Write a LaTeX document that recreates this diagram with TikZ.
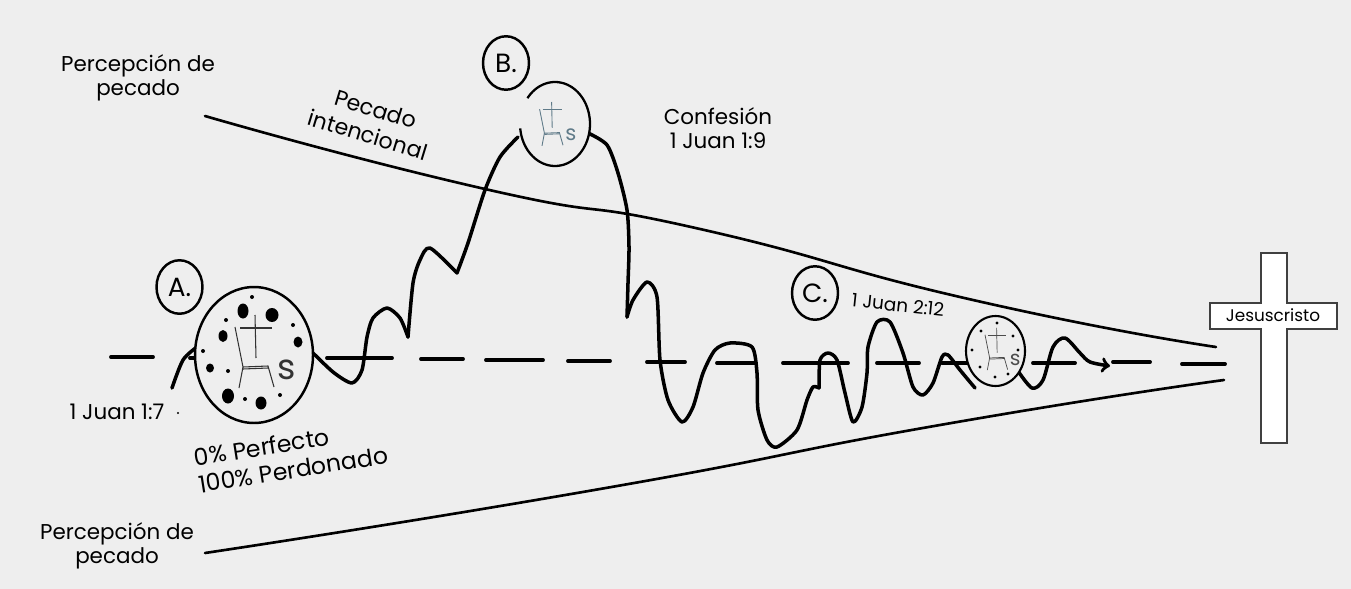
\documentclass[tikz,border=0pt]{standalone}
\usepackage{fontspec}
\setmainfont{Poppins}
\usetikzlibrary{shapes.geometric}
\colorlet{pagebg}{black!6.5}
\definecolor{slateink}{HTML}{5F7A88}
\tikzset{
  rim/.style={draw=black,line width=1.4pt},
  wave/.style={line width=2pt,line cap=round,line join=round},
  dashline/.style={line width=2.2pt,line cap=round},
  funnel/.style={line width=1.5pt,line cap=round},
  hsdisc/.style={ellipse,inner sep=0pt,fill=pagebg},
  tagdisc/.style={ellipse,rim,inner sep=0pt,minimum width=0.92cm,minimum height=1.07cm,font=\fontsize{15}{15}\selectfont},
  lbl/.style={align=center,inner sep=0pt,font=\fontsize{12.2}{13.6}\selectfont},
  hs/.pic={
    \draw (1,-40) -- (2,3);
    \draw (-14,-27) -- (18,-27);
    \draw (-19,-28) -- (-11,12) -- (14,11) -- (20,32);
    \draw (-11,14) -- (14,13);
    \draw (-11,12) -- (-15,33);
    \node[transform shape,inner sep=0pt,font=\fontsize{20}{20}\selectfont] at (33,15) {s};
  }
}
\begin{document}
\begin{tikzpicture}[x=0.02cm,y=-0.02cm]
    % Background
    \useasboundingbox (0,0) rectangle (1351,588);
    \fill[pagebg] (-5,-5) rectangle (1356,593);
    % Funnel
    \draw[funnel] plot[smooth,tension=1] coordinates {(205,116) (485,189) (700,229) (973,300) (1216,347)};
    \draw[funnel] plot[smooth,tension=1] coordinates {(205,553) (600,489) (940,425) (1224,380)};
    % Dashes
    \foreach \xa/\xb/\ya in {111/153/357,190/197/358,327/392/358,421/463/359,486/543/360,568/610/361,647/685/362,717/755/363,783/848/363,877/919/363,942/967/363,1033/1075/363,1113/1150/362,1182/1225/364}
      \draw[dashline] (\xa,\ya) -- (\xb,\ya);
    % Waves
    \draw[wave] plot[smooth] coordinates {(172,388) (183,360) (197,347)};
    \draw[wave] plot[smooth,tension=0.45] coordinates {(310,350) (333,372) (352,383) (362,370) (367,337) (373,318) (387,308) (400,318) (408,337)};
    \draw[wave] plot[smooth,tension=0.45] coordinates {(408,337) (413,283) (420,260) (430,248) (457,273)};
    \draw[wave] plot[smooth,tension=0.45] coordinates {(457,273) (468,243) (485,190) (500,157) (518,137)};
    \draw[wave] plot[smooth,tension=0.45] coordinates {(588,133) (607,145) (618,173) (627,210) (629,247) (628,283) (627,317)};
    \draw[wave] plot[smooth,tension=0.45] coordinates {(627,317) (633,300) (647,282) (657,297) (660,360) (668,400) (682,422) (693,407) (703,373) (715,350) (730,343) (752,347) (757,373) (758,410) (767,440) (777,447) (797,430) (807,400) (813,387) (819,388)};
    \draw[wave] plot[smooth,tension=0.45] coordinates {(819,388) (820,360) (828,353) (837,360) (845,393) (853,422) (862,407) (867,373) (868,347) (877,322) (890,322) (903,353) (913,387) (923,395) (933,383) (942,357) (948,355) (960,370) (975,388)};
    \draw[wave,->] plot[smooth,tension=0.5] coordinates {(1018,371) (1032,388) (1043,380) (1053,347) (1065,338) (1080,353) (1090,362) (1110,366)};
    % Discs
    \node[hsdisc,rim,minimum width=2.36cm,minimum height=2.72cm] (hsA) at (254,355) {};
    \node[hsdisc,minimum width=1.4cm,minimum height=1.68cm] (hsB) at (555,124) {};
    \draw[black,line width=1.3pt] plot[smooth,domain=-174:142,samples=40] ({555+35*cos(\x)},{124-42*sin(\x)});
    \node[hsdisc,rim,line width=1.2pt,minimum width=1.18cm,minimum height=1.4cm] (hsC) at (995.5,351) {};
    \node[tagdisc] (tagA) at (179.5,287) {A.};
    \node[tagdisc] (tagB) at (506,63) {B.};
    \node[tagdisc] (tagC) at (815,293) {C.};
    % Spots
    \foreach \xa/\ya/\rx/\ry in {243/311/5.5/7.5,272/315/6.5/7,223/336/4.5/6,298/342/4.5/5.5,210/368/4/4.5,228/396/6/7.5,261/403/5.5/6.5}
      \fill (\xa,\ya) circle[x radius=\rx,y radius=\ry];
    \foreach \xa/\ya in {252/297,226/320,293/325,203/351,228/371,245/399,280/395}
      \fill (\xa,\ya) circle[radius=2];
    \foreach \xa/\ya in {997/323,981/331,1013/336,972/350,1018/350,980/367,995/377,1008/374}
      \fill (\xa,\ya) circle[radius=1.6];
    \fill (178,413) circle[radius=1.2];
    % Chairs
    \pic[line width=0.6pt,black!80] at (254,355) {hs};
    \pic[scale=0.6,line width=0.5pt,slateink,text=slateink] at (551,126) {hs};
    \pic[scale=0.58,line width=0.4pt,black!70,text=black!70] at (996,351) {hs};
    % Labels
    \node[lbl] (pctop) at (138,78) {Percepción de\\pecado};
    \node[lbl] (pcbot) at (117,546) {Percepción de\\pecado};
    \node[lbl,rotate=-17,font=\fontsize{12.6}{15.5}\selectfont] (intent) at (372,122) {Pecado\\intencional};
    \node[lbl] (conf) at (718,128) {Confesión\\1 Juan 1:9};
    \node[lbl] (verseA) at (117,412) {1 Juan 1:7};
    \node[lbl,rotate=-6,font=\fontsize{10.5}{12}\selectfont] (verseC) at (898,305) {1 Juan 2:12};
    \node[lbl,align=left,rotate=9,font=\fontsize{13.4}{15.5}\selectfont] (pct) at (291,456) {0\% Perfecto\\100\% Perdonado};
    % Cross
    \draw[fill=white,draw=black!75,line width=0.7pt] (1261,253) -- (1287,253) -- (1287,303) -- (1337,303) -- (1337,329) -- (1287,329) -- (1287,443) -- (1261,443) -- (1261,329) -- (1210,329) -- (1210,303) -- (1261,303) -- cycle;
    \node[inner sep=0pt,font=\fontsize{9.6}{9.6}\selectfont] (jesus) at (1273,315) {Jesuscristo};
\end{tikzpicture}
\end{document}
